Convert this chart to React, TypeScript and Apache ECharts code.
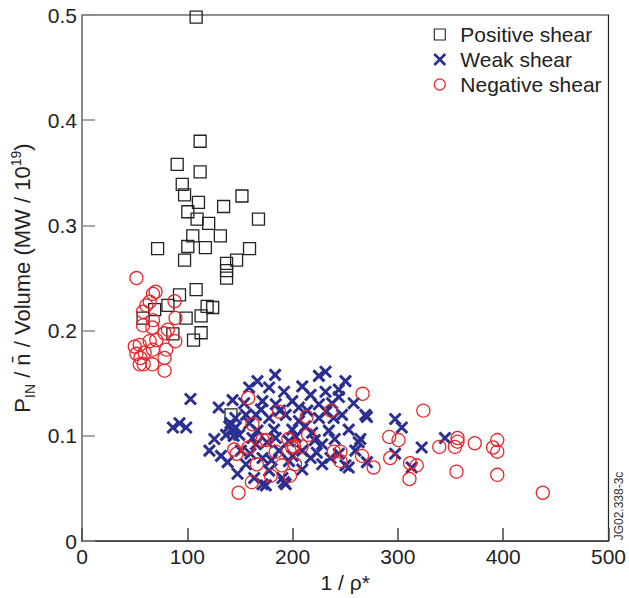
import React, { useEffect, useRef } from "react";
import * as echarts from "echarts";

const seriesNames = ["Positive shear", "Weak shear", "Negative shear"];

const positiveShear: number[][] = [
  [108.4, 0.498], [112.2, 0.38], [90.4, 0.358], [112.2, 0.351], [95.2, 0.339], [97.4, 0.329],
  [151.9, 0.328], [110.6, 0.322], [100.5, 0.313], [134.5, 0.318], [109.3, 0.306], [120.3, 0.302],
  [167.6, 0.306], [105.2, 0.29], [131.4, 0.29], [71.8, 0.278], [100.5, 0.28], [117.2, 0.279],
  [159.1, 0.278], [97.4, 0.267], [146.8, 0.267], [137.3, 0.264], [137.3, 0.257], [137.3, 0.25],
  [108.4, 0.239], [92.6, 0.234], [69.0, 0.22], [81.6, 0.224], [98.9, 0.212], [113.1, 0.214],
  [118.8, 0.223], [124.1, 0.222], [58.0, 0.212], [86.3, 0.197], [113.1, 0.198], [105.9, 0.191],
  [141.5, 0.12],
];

const weakShear: number[][] = [
  [103.0, 0.135], [86.3, 0.108], [92.6, 0.112], [99.0, 0.108], [129.8, 0.127], [143.0, 0.134],
  [125.7, 0.097], [121.0, 0.086], [132.0, 0.081], [138.3, 0.075], [147.7, 0.064], [139.9, 0.109],
  [143.0, 0.105], [136.8, 0.101], [155.7, 0.12], [158.8, 0.146], [155.7, 0.073],
  [161.9, 0.098], [150.9, 0.086], [174.6, 0.053], [191.9, 0.056],
  [183.4, 0.158], [231.3, 0.161], [225.0, 0.157], [250.2, 0.152], [166.6, 0.152], [177.7, 0.146],
  [191.9, 0.142], [209.2, 0.147], [217.1, 0.139], [231.3, 0.142], [243.9, 0.144], [258.0, 0.131],
  [269.1, 0.12], [171.4, 0.133], [184.0, 0.13], [199.7, 0.133], [225.0, 0.13], [237.5, 0.131],
  [165.1, 0.12], [177.7, 0.117], [193.5, 0.12], [206.0, 0.114], [225.0, 0.117], [247.0, 0.12],
  [166.6, 0.105], [182.4, 0.106], [199.7, 0.106], [218.6, 0.103], [234.4, 0.105], [253.3, 0.106],
  [262.8, 0.094], [259.6, 0.086], [165.1, 0.092], [187.1, 0.086], [209.2, 0.086], [228.1, 0.092],
  [243.9, 0.083], [171.4, 0.079], [196.6, 0.076], [217.1, 0.079], [228.1, 0.073], [250.2, 0.072],
  [177.7, 0.067], [190.3, 0.06], [209.2, 0.068], [171.4, 0.054], [193.5, 0.054], [163.5, 0.06],
  [270.6, 0.118], [297.4, 0.116], [303.7, 0.108], [264.4, 0.097], [270.6, 0.075], [253.3, 0.07],
  [297.4, 0.083], [322.6, 0.089], [344.7, 0.098], [313.1, 0.07],
  [145.6, 0.117], [149.3, 0.101], [206.0, 0.127], [196.6, 0.095], [223.0, 0.084], [239.0, 0.117],
  [175.8, 0.094], [154.0, 0.131],
  [141.0, 0.112], [146.0, 0.108], [144.0, 0.1], [159.0, 0.112], [170.0, 0.125], [188.0, 0.124],
  [214.0, 0.124], [232.0, 0.123], [203.0, 0.099], [240.0, 0.097], [184.0, 0.098], [221.0, 0.096],
  [180.0, 0.077], [236.0, 0.079], [200.0, 0.081], [212.0, 0.109], [160.0, 0.083], [244.0, 0.137],
];

const negativeShear: number[][] = [
  [51.7, 0.25], [69.9, 0.237], [67.4, 0.235], [87.9, 0.228], [64.3, 0.2275], [61.1, 0.224],
  [58.0, 0.218], [88.8, 0.212], [67.4, 0.21], [58.0, 0.205], [66.8, 0.203], [81.6, 0.201],
  [78.4, 0.1975], [88.6, 0.19], [50.1, 0.185], [54.8, 0.1865], [64.3, 0.19], [70.6, 0.191],
  [80.0, 0.182], [51.7, 0.178], [59.5, 0.179], [67.4, 0.182], [78.4, 0.174], [54.8, 0.168],
  [58.6, 0.168], [66.8, 0.168], [78.4, 0.162], [55.5, 0.174],
  [157.8, 0.136], [161.9, 0.111], [187.1, 0.123], [213.3, 0.118], [236.6, 0.124], [266.5, 0.14],
  [214.8, 0.101], [171.4, 0.096], [175.1, 0.096], [195.9, 0.097], [184.0, 0.085], [201.3, 0.09],
  [208.6, 0.09], [158.1, 0.089], [144.6, 0.087], [146.8, 0.083], [166.0, 0.073], [189.7, 0.072],
  [202.3, 0.073], [179.3, 0.062], [197.5, 0.062], [161.3, 0.056], [148.7, 0.046], [239.1, 0.085],
  [245.5, 0.085], [245.5, 0.076], [265.9, 0.081], [276.9, 0.07], [199.7, 0.089],
  [324.2, 0.124], [291.8, 0.099], [300.6, 0.096], [292.7, 0.079], [311.6, 0.074], [317.9, 0.072],
  [311.0, 0.059], [356.6, 0.098], [356.6, 0.0945], [354.2, 0.0895], [339.3, 0.0895], [373.0, 0.093],
  [390.4, 0.089], [394.4, 0.096], [394.4, 0.085], [355.7, 0.066], [394.4, 0.063], [437.6, 0.046],
];

const FONT = "'Liberation Sans', Arial, Helvetica, sans-serif";

export default function App() {
  const ref = useRef<HTMLDivElement>(null);
  useEffect(() => {
    document.body.style.margin = "0";
    if (!ref.current) return;
    const chart = echarts.init(ref.current, null, { renderer: "svg" });
    chart.setOption({
      animation: false,
      backgroundColor: "#ffffff",
      textStyle: { fontFamily: FONT },
      grid: {
        left: 82,
        right: 18,
        top: 15,
        bottom: 54,
        show: true,
        borderColor: "#222",
        borderWidth: 1.2,
        backgroundColor: "transparent",
      },
      legend: {
        orient: "vertical",
        left: 433,
        top: 24,
        padding: 0,
        itemGap: 4,
        itemWidth: 11,
        itemHeight: 11,
        data: [
          { name: seriesNames[0], itemStyle: { borderWidth: 1.1, borderColor: "#222", color: "rgba(0,0,0,0)" } },
          { name: seriesNames[1], itemStyle: { borderWidth: 2.6, borderColor: "#2b2f8f", color: "rgba(0,0,0,0)" } },
          { name: seriesNames[2], itemStyle: { borderWidth: 1.2, borderColor: "#e8252b", color: "rgba(0,0,0,0)" } },
        ],
        textStyle: { fontSize: 21, color: "#222", fontFamily: FONT, lineHeight: 21, padding: [0, 0, 0, 10] },
      },
      xAxis: {
        type: "value",
        min: 0,
        max: 500,
        interval: 100,
        name: "1 / ρ*",
        nameLocation: "middle",
        nameGap: 26,
        nameTextStyle: { fontSize: 21, color: "#222", fontFamily: FONT },
        axisLine: { show: true, lineStyle: { color: "#444", width: 1.5 } },
        axisTick: { show: true, inside: true, length: 13, lineStyle: { color: "#444", width: 1.5 } },
        axisLabel: { fontSize: 21, color: "#222", margin: 5, fontFamily: FONT },
        splitLine: { show: false },
      },
      yAxis: {
        type: "value",
        min: 0,
        max: 0.5,
        interval: 0.1,
        name: "P{sub|IN} / n\u0304 / Volume (MW / 10{sup|19})",
        nameLocation: "middle",
        nameGap: 45,
        nameTextStyle: {
          fontSize: 22,
          color: "#222",
          fontFamily: FONT,
          lineHeight: 28,
          rich: {
            sub: { fontSize: 14, verticalAlign: "bottom", lineHeight: 28, color: "#222", fontFamily: FONT },
            sup: { fontSize: 14, verticalAlign: "top", lineHeight: 28, color: "#222", fontFamily: FONT },
          },
        },
        axisLine: { show: true, lineStyle: { color: "#8a8a8a", width: 2 } },
        axisTick: { show: true, inside: true, length: 13, lineStyle: { color: "#8a8a8a", width: 1.5 } },
        axisLabel: { fontSize: 21, color: "#222", margin: 5, fontFamily: FONT },
        splitLine: { show: false },
      },
      graphic: [
        {
          type: "text",
          x: 619,
          y: 506,
          rotation: Math.PI / 2,
          style: {
            text: "JG02.338-3c",
            font: `12px ${FONT}`,
            fill: "#333",
            align: "center",
            verticalAlign: "middle",
          },
        },
      ],
      series: [
        {
          name: seriesNames[0],
          type: "scatter",
          symbol: "rect",
          symbolSize: 12,
          data: positiveShear,
          itemStyle: { color: "rgba(0,0,0,0)", borderColor: "#222", borderWidth: 1.3, opacity: 1 },
          emphasis: { disabled: true },
          z: 2,
        },
        {
          name: seriesNames[1],
          type: "scatter",
          symbol: "path://M0,0L10,10M0,10L10,0",
          symbolSize: 11,
          data: weakShear,
          itemStyle: { color: "rgba(0,0,0,0)", borderColor: "#2b2f8f", borderWidth: 3, opacity: 1 },
          emphasis: { disabled: true },
          z: 3,
        },
        {
          name: seriesNames[2],
          type: "scatter",
          symbol: "circle",
          symbolSize: 13,
          data: negativeShear,
          itemStyle: { color: "rgba(0,0,0,0)", borderColor: "#e8252b", borderWidth: 1.3, opacity: 1 },
          emphasis: { disabled: true },
          z: 4,
        },
      ],
    });
    return () => chart.dispose();
  }, []);
  return <div ref={ref} style={{ width: 629, height: 598 }} />;
}
